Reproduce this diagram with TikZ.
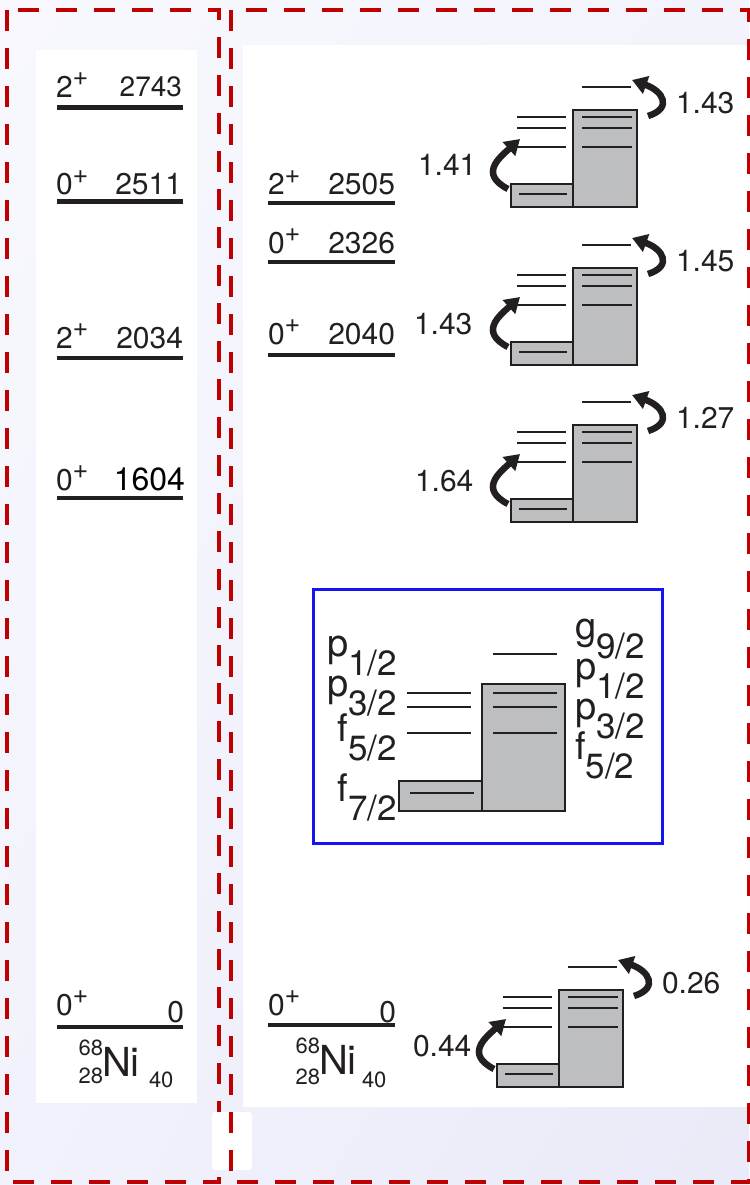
\documentclass[tikz,border=0pt]{standalone}
\usepackage{fontspec}
\setmainfont{TeX Gyre Heros}
\usetikzlibrary{arrows.meta,shadings}

\definecolor{ink}{HTML}{231F20}
\definecolor{framered}{HTML}{C00000}
\definecolor{shellgray}{HTML}{BDBEC0}
\definecolor{boxblue}{HTML}{1414F0}
\definecolor{bgTL}{HTML}{F8F8FE}
\definecolor{bgTR}{HTML}{F3F3FC}
\definecolor{bgBL}{HTML}{F2F2FC}
\definecolor{bgBR}{HTML}{EAEAF8}

\newcommand\fs[1]{\fontsize{#1}{#1}\selectfont}
% raised parity sign
\newcommand\pls{\raisebox{12pt}{\fs{27}+}}
% orbital label with lowered j value
\newcommand\orb[2]{#1\raisebox{-19pt}{\fs{35}#2}}

\tikzset{
  level/.style={draw=ink, line width=4.4pt},
  lbl/.style={inner sep=0pt, outer sep=0pt, text=ink, font=\fs{30}},
  shellbox/.style={draw=ink, line width=2.3pt, fill=shellgray},
  orbit/.style={draw=ink, line width=2pt},
  bigbox/.style={draw=ink, line width=2.7pt, fill=shellgray},
  bigorbit/.style={draw=ink, line width=2.4pt},
  jump/.style={draw=ink, line width=6.5pt, -{Triangle[length=15pt,width=18pt]}},
  frame/.style={draw=framered, line width=4pt, dash pattern=on 21pt off 17pt},
  orblbl/.style={inner sep=0pt, outer sep=0pt, text=ink, font=\fs{38}},
}

% small occupation scheme: #1 name, #2/#3 origin, #4 inner label, #5 outer label, #6 inner label x
\newcommand\shellset[6]{%
  \begin{scope}[shift={(#2,#3)}]
    \draw[shellbox] (0,74) rectangle (62,97);
    \draw[shellbox] (62,0) rectangle (126,97);
    \draw[orbit] (8,84) -- (56,84);
    \foreach \yy in {7,18,37} {
      \draw[orbit] (6,\yy) -- (55,\yy);
      \draw[orbit] (71,\yy) -- (121,\yy);
    }
    \draw[orbit] (71,-23) -- (120,-23);
    \coordinate (#1-t1) at (-3,79);
    \coordinate (#1-h1) at (9,29);
    \coordinate (#1-t2) at (137,6);
    \coordinate (#1-h2) at (121,-30);
    \draw[jump] (#1-t1) .. controls (-32,64) and (-12,48) .. (#1-h1);
    \draw[jump] (#1-t2) .. controls (162,-2) and (152,-19) .. (#1-h2);
    \node[lbl, anchor=base west] (#1-in) at (#6,66) {#4};
    \node[lbl, anchor=base west] (#1-out) at (165,3.5) {#5};
  \end{scope}}

\begin{document}
\begin{tikzpicture}[x=1pt, y=-1pt]
  \useasboundingbox (0,0) rectangle (749,1185);

  % background and panels
  \shade[upper left=bgTL, upper right=bgTR, lower left=bgBL, lower right=bgBR]
    (0,0) rectangle (749,1185);
  \fill[white] (36,50) rectangle (197,1103);
  \fill[white] (243,45) rectangle (749,1107);

  % dashed frames
  \draw[frame] (7,10) rectangle (219,1182);
  \fill[white, rounded corners=3pt] (212,1112) rectangle (252,1170);
  \draw[frame] (231,10) rectangle (749,1182);

  % left column of levels
  \draw[level] (57,107.5) -- (183,107.5);
  \node[lbl, anchor=base west] (sA1) at (56,98) {2\pls};
  \node[lbl, anchor=base east, font=\fs{28}] (eA1) at (182,97) {2743};

  \draw[level] (57,201.5) -- (183,201.5);
  \node[lbl, anchor=base west] (sA2) at (56,195) {0\pls};
  \node[lbl, anchor=base east] (eA2) at (182,195) {2511};

  \draw[level] (57,358) -- (183,358);
  \node[lbl, anchor=base west] (sA3) at (56,348) {2\pls};
  \node[lbl, anchor=base east] (eA3) at (183,348) {2034};

  \draw[level] (57,498) -- (183,498);
  \node[lbl, anchor=base west] (sA4) at (56,490) {0\pls};
  \node[lbl, anchor=base east, text=black, font=\fs{32}] (eA4) at (185,490) {1604};

  \draw[level] (57,1027) -- (183,1027);
  \node[lbl, anchor=base west] (sA5) at (56,1015) {0\pls};
  \node[lbl, anchor=base east] (eA5) at (184,1022) {0};

  \node[lbl, anchor=base west, font=\fs{40}] (niA) at (102,1076) {Ni};
  \node[lbl, anchor=base east, font=\fs{22}] (aA) at (103,1055) {68};
  \node[lbl, anchor=base east, font=\fs{22}] (zA) at (103,1083) {28};
  \node[lbl, anchor=base west, font=\fs{22}] (nA) at (149,1087) {40};

  % right column of levels
  \draw[level] (268,203) -- (395,203);
  \node[lbl, anchor=base west] (sB1) at (268,195) {2\pls};
  \node[lbl, anchor=base east] (eB1) at (395,195) {2505};

  \draw[level] (268,262) -- (395,262);
  \node[lbl, anchor=base west] (sB2) at (268,253) {0\pls};
  \node[lbl, anchor=base east] (eB2) at (395,253) {2326};

  \draw[level] (268,355) -- (395,355);
  \node[lbl, anchor=base west] (sB3) at (268,344) {0\pls};
  \node[lbl, anchor=base east] (eB3) at (395,344) {2040};

  \draw[level] (268,1025) -- (395,1025);
  \node[lbl, anchor=base west] (sB4) at (268,1015) {0\pls};
  \node[lbl, anchor=base east] (eB4) at (396,1022) {0};

  \node[lbl, anchor=base west, font=\fs{40}] (niB) at (319,1074) {Ni};
  \node[lbl, anchor=base east, font=\fs{22}] (aB) at (320,1053) {68};
  \node[lbl, anchor=base east, font=\fs{22}] (zB) at (320,1084) {28};
  \node[lbl, anchor=base west, font=\fs{22}] (nB) at (362,1087) {40};

  % occupation schemes of the excited configurations
  \shellset{sc1}{511}{110}{1.41}{1.43}{-93}
  \shellset{sc2}{511}{268}{1.43}{1.45}{-97}
  \shellset{sc3}{511}{425}{1.64}{1.27}{-96}
  \shellset{sc4}{497}{990}{0.44}{0.26}{-84}

  % orbital scheme
  \draw[boxblue, line width=3pt] (313,589) rectangle (662,843);
  \draw[bigbox] (399,781) rectangle (482,811);
  \draw[bigbox] (482,684) rectangle (565,811);
  \draw[bigorbit] (410,793) -- (474,793);
  \foreach \yy in {693,707,733} {
    \draw[bigorbit] (407,\yy) -- (471,\yy);
    \draw[bigorbit] (493,\yy) -- (557,\yy);
  }
  \draw[bigorbit] (493,654) -- (557,654);

  \node[orblbl, anchor=base east] (lp1) at (397,656) {\orb{p}{1/2}};
  \node[orblbl, anchor=base east] (lp3) at (397,696) {\orb{p}{3/2}};
  \node[orblbl, anchor=base east] (lf5) at (397,741) {\orb{f}{5/2}};
  \node[orblbl, anchor=base east] (lf7) at (397,801) {\orb{f}{7/2}};

  \node[orblbl, anchor=base west] (rg9) at (575,639) {\orb{g}{9/2}};
  \node[orblbl, anchor=base west] (rp1) at (575,679) {\orb{p}{1/2}};
  \node[orblbl, anchor=base west] (rp3) at (575,719) {\orb{p}{3/2}};
  \node[orblbl, anchor=base west] (rf5) at (575,759) {\orb{f}{5/2}};
\end{tikzpicture}
\end{document}
